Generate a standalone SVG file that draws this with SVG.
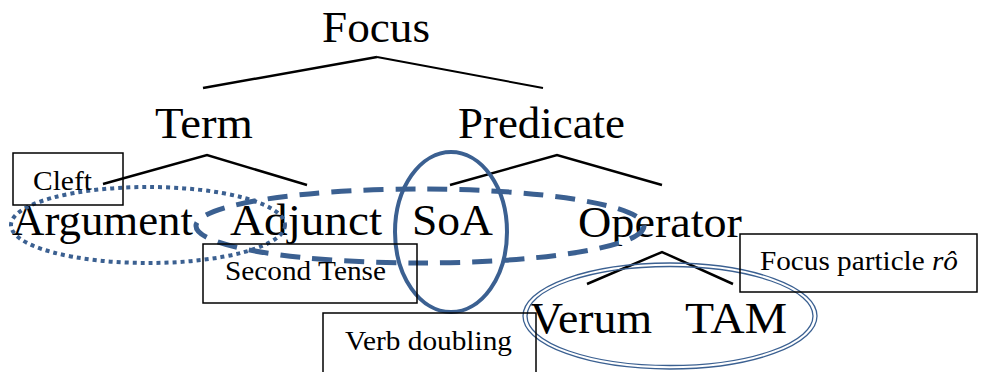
<svg xmlns="http://www.w3.org/2000/svg" width="983" height="372" viewBox="0 0 983 372">
  <style>
    .lbl { font-family: "Liberation Serif", "Times New Roman", serif; font-size: 44px; fill: #000; }
    .note { font-family: "Liberation Serif", "Times New Roman", serif; font-size: 27px; fill: #000; }
    .box { fill: none; stroke: #000; stroke-width: 1.5; }
    .branch { fill: none; stroke: #000; stroke-width: 2.5; stroke-linecap: butt; }
    .ring { fill: none; stroke: #3B6091; }
  </style>
  <rect width="983" height="372" fill="#fff"/>

  <!-- tree branches -->
  <g id="connectors">
    <polyline class="branch" points="203,88 377,57"/>
    <polyline class="branch" points="377,57 543,88" style="stroke-width:2"/>
    <polyline class="branch" points="103,184 207,155 307,185"/>
    <polyline class="branch" points="450,185 557,155 662,185"/>
    <polyline class="branch" points="587,284 662,252 733,284"/>
  </g>

  <!-- tree nodes -->
  <g id="focus"><text class="lbl" x="322" y="42" textLength="108" lengthAdjust="spacingAndGlyphs">Focus</text></g>
  <g id="term"><text class="lbl" x="155" y="138" textLength="98" lengthAdjust="spacingAndGlyphs">Term</text></g>
  <g id="predicate"><text class="lbl" x="458" y="138" textLength="167" lengthAdjust="spacingAndGlyphs">Predicate</text></g>
  <g id="argument"><text class="lbl" x="12" y="235" textLength="181" lengthAdjust="spacingAndGlyphs">Argument</text></g>
  <g id="adjunct"><text class="lbl" x="230" y="235" textLength="152" lengthAdjust="spacingAndGlyphs">Adjunct</text></g>
  <g id="soa"><text class="lbl" x="412" y="235" textLength="81" lengthAdjust="spacingAndGlyphs">SoA</text></g>
  <g id="operator"><text class="lbl" x="578" y="237" textLength="164" lengthAdjust="spacingAndGlyphs">Operator</text></g>
  <g id="verum"><text class="lbl" x="530" y="333" textLength="122" lengthAdjust="spacingAndGlyphs">Verum</text></g>
  <g id="tam"><text class="lbl" x="685" y="333" textLength="102" lengthAdjust="spacingAndGlyphs">TAM</text></g>

  <!-- strategy groupings -->
  <g id="cleft-scope"><ellipse class="ring" cx="148" cy="225" rx="137" ry="38" stroke-width="4" stroke-dasharray="4 4"/></g>
  <g id="second-tense-scope"><ellipse class="ring" cx="420" cy="226" rx="224" ry="37" stroke-width="5" stroke-dasharray="20 12"/></g>
  <g id="verb-doubling-scope"><ellipse class="ring" cx="451" cy="232" rx="56" ry="80" stroke-width="4"/></g>
  <g id="particle-scope">
    <ellipse class="ring" cx="670" cy="316" rx="147" ry="53" stroke-width="1.3"/>
    <ellipse class="ring" cx="670" cy="316" rx="143" ry="49.5" stroke-width="1.3"/>
  </g>

  <!-- strategy labels -->
  <g id="cleft">
    <rect class="box" x="13" y="153" width="110" height="52"/>
    <text class="note" x="33" y="190" textLength="59" lengthAdjust="spacingAndGlyphs">Cleft</text>
  </g>
  <g id="second-tense">
    <rect class="box" x="203" y="244" width="214" height="59"/>
    <text class="note" x="225" y="280" textLength="161" lengthAdjust="spacingAndGlyphs">Second Tense</text>
  </g>
  <g id="verb-doubling">
    <rect class="box" x="323" y="313" width="213" height="70"/>
    <text class="note" x="345" y="350" textLength="167" lengthAdjust="spacingAndGlyphs">Verb doubling</text>
  </g>
  <g id="focus-particle">
    <rect class="box" x="740" y="234" width="237" height="58"/>
    <text class="note" x="760" y="270" textLength="198" lengthAdjust="spacingAndGlyphs">Focus particle <tspan font-style="italic">rô</tspan></text>
  </g>
</svg>
